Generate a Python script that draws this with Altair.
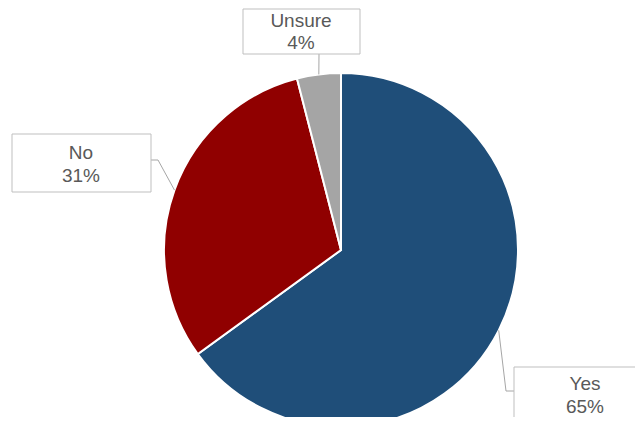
import math
import altair as alt
import pandas as pd

# ---- data ----
categories = ["Yes", "No", "Unsure"]
values = [65, 31, 4]
pct_labels = ["65%", "31%", "4%"]
colors = ["#1F4E79", "#900000", "#A5A5A5"]

# ---- layout (page pixel coordinates) ----
CX, CY, R = 341, 250, 177
box_x1 = [514, 12, 243]
box_x2 = [660, 151, 360]
box_y1 = [367, 134, 9]
box_y2 = [460, 192, 54]
text_x = [585, 81, 301]
name_y = [390, 159, 27]
pct_y = [413, 182, 49]
elbows = [[(506, 391), (514, 391)], [(158, 160), (151, 160)], [(319, 54)]]

W, H = 627, 409
xs = alt.Scale(domain=[8, 8 + W], nice=False, zero=False)
ys = alt.Scale(domain=[8, 8 + H], nice=False, zero=False, reverse=True)

pie_df = pd.DataFrame({"cat": categories, "value": values, "idx": range(len(values))})

# leader lines: start at the slice's mid-angle on the rim
total = sum(values)
rows = []
cum = 0
for i, (c, v) in enumerate(zip(categories, values)):
    mid = (cum + v / 2) / total * 2 * math.pi
    cum += v
    pts = [(CX + R * math.sin(mid), CY - R * math.cos(mid))] + elbows[i]
    for k, (px, py) in enumerate(pts):
        rows.append({"cat": c, "k": k, "px": px, "py": py})
line_df = pd.DataFrame(rows)

box_df = pd.DataFrame({"cat": categories, "x1": box_x1, "x2": box_x2, "y1": box_y1, "y2": box_y2})
text_df = pd.DataFrame({"cat": categories, "pct": pct_labels, "tx": text_x, "ny": name_y, "py": pct_y})

pie = alt.Chart(pie_df).mark_arc(radius=R, stroke="white", strokeWidth=2).encode(
    theta=alt.Theta("value:Q", stack=True),
    order=alt.Order("idx:Q"),
    color=alt.Color("cat:N", scale=alt.Scale(domain=categories, range=colors), legend=None),
    x=alt.value(CX - 8),
    y=alt.value(CY - 8),
)

lines = alt.Chart(line_df).mark_line(color="#A6A6A6", strokeWidth=1).encode(
    x=alt.X("px:Q", scale=xs, axis=None),
    y=alt.Y("py:Q", scale=ys, axis=None),
    detail="cat:N",
    order="k:Q",
)

boxes = alt.Chart(box_df).mark_rect(fill="white", stroke="#BFBFBF", strokeWidth=1, clip=True).encode(
    x=alt.X("x1:Q", scale=xs, axis=None), x2="x2:Q",
    y=alt.Y("y1:Q", scale=ys, axis=None), y2="y2:Q",
)

tstyle = dict(font="Liberation Sans", fontSize=19, color="#595959", align="center", baseline="alphabetic")
names = alt.Chart(text_df).mark_text(**tstyle).encode(
    x=alt.X("tx:Q", scale=xs, axis=None), y=alt.Y("ny:Q", scale=ys, axis=None), text="cat:N")
pcts = alt.Chart(text_df).mark_text(**tstyle).encode(
    x=alt.X("tx:Q", scale=xs, axis=None), y=alt.Y("py:Q", scale=ys, axis=None), text="pct:N")

chart = alt.layer(pie, lines, boxes, names, pcts).properties(
    width=W, height=H, padding=0, autosize=alt.AutoSizeParams(type="none"), background="white"
).configure_view(stroke=None)

chart.save("out.html", embed_options={"renderer": "svg", "actions": False})
